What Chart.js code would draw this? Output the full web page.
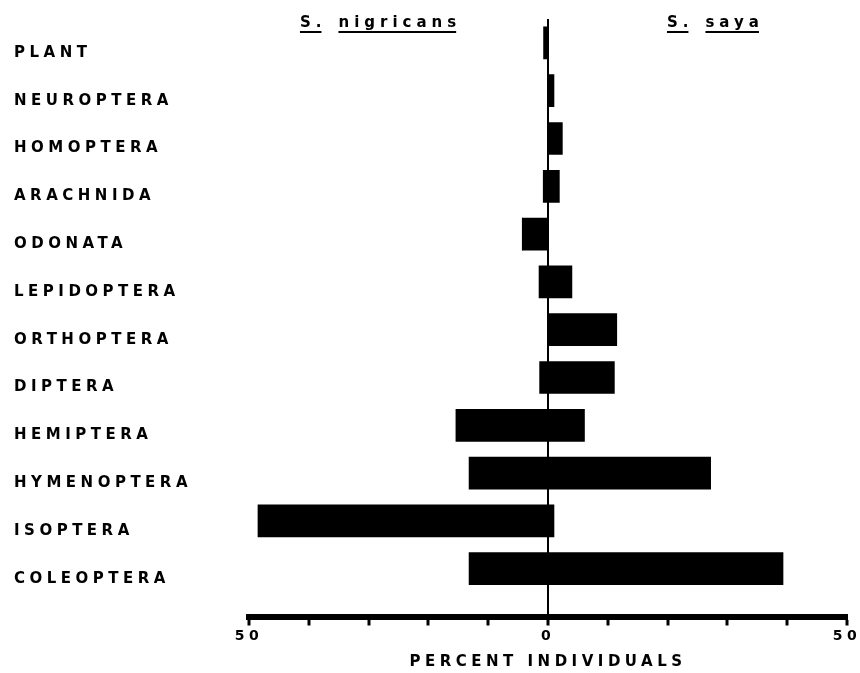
<!DOCTYPE html>
<html>
<head>
<meta charset="utf-8">
<title>S. nigricans / S. saya - percent individuals</title>
<script src="https://cdn.jsdelivr.net/npm/chart.js@4.4.1/dist/chart.umd.min.js"></script>
<style>
  html, body { margin: 0; padding: 0; background: #fff; }
  #wrap { width: 860px; height: 673px; }
</style>
</head>
<body>
<div id="wrap"><canvas id="diet-chart"></canvas></div>
<script>
// prey groups, top to bottom
const categories = ['PLANT', 'NEUROPTERA', 'HOMOPTERA', 'ARACHNIDA', 'ODONATA', 'LEPIDOPTERA',
  'ORTHOPTERA', 'DIPTERA', 'HEMIPTERA', 'HYMENOPTERA', 'ISOPTERA', 'COLEOPTERA'];

// percent individuals, S. nigricans (left side)
const nigricans = [0.7, 0, 0, 0.8, 4.3, 1.5, 0, 1.4, 15.4, 13.2, 48.5, 13.2];
// percent individuals, S. saya (right side)
const saya = [0, 1.0, 2.4, 1.9, 0, 4.0, 11.5, 11.1, 6.1, 27.2, 1.0, 39.3];

// axis
const axisLabels = [-50, 0, 50];
const axisTitle = 'PERCENT INDIVIDUALS';
const speciesGenus = ['S.', 'S.'];
const speciesNames = ['nigricans', 'saya'];

const FONT = '"DejaVu Sans", sans-serif';

// wide letter spacing like the original lettering
const spacingPlugin = {
  id: 'spacing',
  beforeDraw(chart) {
    chart.ctx.letterSpacing = '4.5px';
  }
};

// underlined species names above each half
const speciesPlugin = {
  id: 'species',
  afterDraw(chart) {
    const ctx = chart.ctx;
    const xs = chart.scales.x;
    ctx.save();
    ctx.letterSpacing = '5px';
    ctx.font = 'bold 15px ' + FONT;
    ctx.fillStyle = '#000';
    ctx.textAlign = 'left';
    ctx.textBaseline = 'alphabetic';
    [-28, 28].forEach((at, i) => {
      const wg = ctx.measureText(speciesGenus[i]).width;
      const wn = ctx.measureText(speciesNames[i]).width;
      const gap = 12;
      let left = xs.getPixelForValue(at) - (wg + gap + wn) / 2;
      ctx.fillText(speciesGenus[i], left, 27);
      ctx.fillRect(left, 31, wg - 5, 2);
      left += wg + gap;
      ctx.fillText(speciesNames[i], left, 27);
      ctx.fillRect(left, 31, wn - 5, 2);
    });
    ctx.restore();
  }
};

const ctx = document.getElementById('diet-chart').getContext('2d');
const dietChart = new Chart(ctx, {
  type: 'bar',
  data: {
    datasets: [
      {
        label: 'S. nigricans',
        data: nigricans.map((v, i) => ({ x: -v, y: i })),
        backgroundColor: '#000',
        borderWidth: 0,
        barThickness: 32
      },
      {
        label: 'S. saya',
        data: saya.map((v, i) => ({ x: v, y: i })),
        backgroundColor: '#000',
        borderWidth: 0,
        barThickness: 32
      }
    ]
  },
  options: {
    indexAxis: 'y',
    responsive: true,
    maintainAspectRatio: false,
    animation: false,
    layout: { padding: { left: 14, right: 13, top: 19, bottom: 0 } },
    plugins: {
      legend: { display: false },
      tooltip: { enabled: false }
    },
    scales: {
      x: {
        type: 'linear',
        position: 'bottom',
        stacked: true,
        min: -50,
        max: 50,
        afterFit(scale) { scale.height = 56.5; },
        border: { display: true, color: '#000', width: 6 },
        grid: {
          drawOnChartArea: true,
          color: c => (c.tick && c.tick.value === 0 ? '#000' : 'rgba(0,0,0,0)'),
          lineWidth: 2,
          tickColor: '#000',
          tickWidth: 3,
          tickLength: 9
        },
        ticks: {
          stepSize: 10,
          autoSkip: false,
          maxRotation: 0,
          padding: 2,
          color: '#000',
          font: { family: FONT, size: 14, weight: 'bold' },
          callback: v => (axisLabels.includes(v) ? String(Math.abs(v)) : '')
        },
        title: {
          display: true,
          text: axisTitle,
          color: '#000',
          font: { family: FONT, size: 15, weight: 'bold' },
          padding: { top: 0, bottom: 2 }
        }
      },
      y: {
        type: 'linear',
        stacked: true,
        reverse: true,
        offset: false,
        min: -0.5,
        max: 12,
        afterFit(scale) { scale.width = 235; },
        border: { display: false },
        grid: { display: false, drawTicks: false },
        ticks: {
          stepSize: 1,
          autoSkip: false,
          maxTicksLimit: 30,
          crossAlign: 'far',
          padding: 0,
          labelOffset: 10,
          color: '#000',
          font: { family: FONT, size: 15, weight: 'bold' },
          callback: v => (Number.isInteger(v) && categories[v] ? categories[v] : '')
        }
      }
    }
  },
  plugins: [spacingPlugin, speciesPlugin]
});
</script>
</body>
</html>
